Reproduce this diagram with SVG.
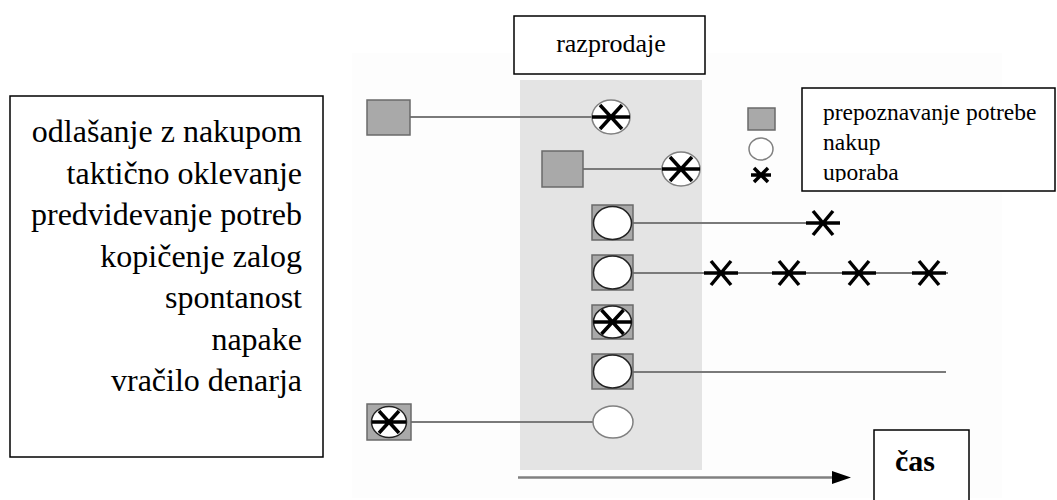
<svg xmlns="http://www.w3.org/2000/svg" width="1057" height="500" viewBox="0 0 1057 500">
<style>
  .box{fill:#fff;stroke:#000;stroke-width:1.5}
  .sq{fill:#a9a9a9;stroke:#6a6a6a;stroke-width:1.5}
  .ov{fill:#fff;stroke:#222;stroke-width:1.5}
  .ovg{fill:#fff;stroke:#808080;stroke-width:1.5}
  .ast{fill:none;stroke:#000;stroke-width:3.5;stroke-linecap:butt}
  .conn{fill:none;stroke:#7a7a7a;stroke-width:2}
  .t{font-family:"Liberation Serif","Times New Roman",serif;fill:#000}
</style>
<defs>
  <path id="a-big" class="ast" d="M-17,0H17M-10,-12L10,12M-10,12L10,-12"/>
  <path id="a-in" class="ast" d="M-19,0H19M-11,-12L11,12M-11,12L11,-12"/>
  <clipPath id="legclip"><rect x="802" y="88" width="254" height="94"/></clipPath>
</defs>
<rect x="0" y="0" width="1057" height="500" fill="#fff"/>
<rect x="352" y="53" width="650" height="445" fill="#fdfdfd"/>
<rect id="sale-zone" x="520" y="80" width="182" height="390" fill="#e4e4e4"/>

<g id="connectors">
  <line class="conn" x1="410" y1="117" x2="592" y2="117"/>
  <line class="conn" x1="583" y1="169" x2="662" y2="169"/>
  <line class="conn" x1="633" y1="223" x2="822" y2="223"/>
  <line class="conn" x1="633" y1="273" x2="948" y2="273"/>
  <line class="conn" x1="633" y1="372" x2="946" y2="372"/>
  <line class="conn" x1="411" y1="422" x2="593" y2="422"/>
  <line x1="518" y1="477.5" x2="833" y2="477.5" stroke="#808080" stroke-width="2.5"/>
  <polygon points="832,471 851,477.5 832,484" fill="#000"/>
</g>

<g id="reasons">
  <rect class="box" x="10" y="96" width="313" height="361"/>
  <g class="t" font-size="32" text-anchor="end">
    <text x="302" y="142">odlašanje z nakupom</text>
    <text x="302" y="183.5">taktično oklevanje</text>
    <text x="302" y="225">predvidevanje potreb</text>
    <text x="302" y="266.5">kopičenje zalog</text>
    <text x="302" y="308">spontanost</text>
    <text x="302" y="349.5">napake</text>
    <text x="302" y="391">vračilo denarja</text>
  </g>
</g>

<g id="razprodaje">
  <rect class="box" x="514" y="16" width="191" height="58"/>
  <text class="t" x="611" y="52" font-size="26" text-anchor="middle">razprodaje</text>
</g>

<g id="row1">
  <rect class="sq" x="367" y="100" width="43" height="35"/>
  <ellipse class="ovg" cx="611" cy="117" rx="19" ry="17"/>
  <use href="#a-in" x="611" y="117"/>
</g>

<g id="row2">
  <rect class="sq" x="542" y="151" width="41" height="36"/>
  <ellipse class="ovg" cx="681" cy="169" rx="19" ry="17"/>
  <use href="#a-in" x="681" y="169"/>
</g>

<g id="row3">
  <rect class="sq" x="592" y="205" width="41" height="35"/>
  <ellipse class="ov" cx="612.5" cy="223" rx="19" ry="16.5"/>
  <use href="#a-big" x="823" y="223"/>
</g>

<g id="row4">
  <rect class="sq" x="592" y="255" width="41" height="35"/>
  <ellipse class="ov" cx="612.5" cy="272.5" rx="19" ry="16.5"/>
  <use href="#a-big" x="721" y="273"/>
  <use href="#a-big" x="789" y="273"/>
  <use href="#a-big" x="859" y="273"/>
  <use href="#a-big" x="929" y="273"/>
</g>

<g id="row5">
  <rect class="sq" x="592" y="305" width="41" height="34"/>
  <ellipse class="ov" cx="612.5" cy="322" rx="19" ry="16"/>
  <use href="#a-in" x="612.5" y="322"/>
</g>

<g id="row6">
  <rect class="sq" x="592" y="354" width="41" height="35"/>
  <ellipse class="ov" cx="612.5" cy="371.5" rx="19" ry="16.5"/>
</g>

<g id="row7">
  <rect class="sq" x="367" y="404" width="44" height="36"/>
  <ellipse class="ov" cx="389" cy="422" rx="17.5" ry="15.5"/>
  <path class="ast" d="M372,422H406M379,411L399,433M379,433L399,411"/>
  <ellipse class="ovg" cx="613" cy="422" rx="20" ry="16"/>
</g>

<g id="legend">
  <rect class="sq" x="748" y="108" width="27" height="22"/>
  <ellipse class="ovg" cx="761" cy="149" rx="12" ry="11"/>
  <path class="ast" stroke-width="2.5" d="M751,175H771M754,168L768,182M754,182L768,168"/>
  <rect class="box" x="802" y="88" width="253" height="103"/>
  <g class="t" font-size="23.5" clip-path="url(#legclip)">
    <text x="823" y="120">prepoznavanje potrebe</text>
    <text x="823" y="150">nakup</text>
    <text x="823" y="180">uporaba</text>
  </g>
</g>

<g id="cas">
  <rect class="box" x="874" y="430" width="95" height="75"/>
  <text class="t" x="895" y="471" font-size="30" font-weight="bold">čas</text>
</g>
</svg>
